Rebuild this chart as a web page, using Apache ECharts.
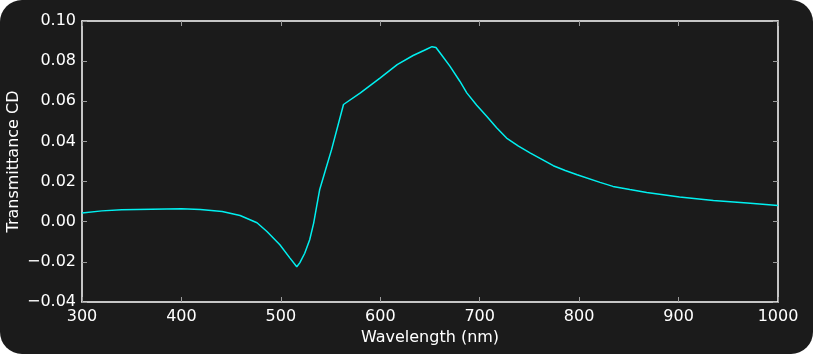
<!DOCTYPE html>
<html>
<head>
<meta charset="utf-8">
<script src="https://cdn.jsdelivr.net/npm/echarts@6/dist/echarts.min.js"></script>
<style>
  html, body { margin: 0; padding: 0; background: #ffffff; }
  #frame {
    width: 813px; height: 354px;
    background: #1b1b1b;
    border-radius: 22px;
  }
  #chart { width: 813px; height: 354px; }
</style>
</head>
<body>
<div id="frame"><div id="chart"></div></div>
<script>
// wavelength (nm) and transmittance CD
var wavelengths = [300, 320, 340, 370, 400, 419, 441, 459, 476, 486, 499, 509, 516, 519, 524, 529, 533, 536,
                   539, 544, 551, 563, 580, 600, 617, 633, 646, 652, 656, 660, 670, 680, 687, 697,
                   707, 717, 727, 739, 751, 763, 774, 786, 798, 821, 834, 851, 868, 901, 935, 969, 1000];
var cdValues = [0.0044, 0.0054, 0.0060, 0.0062, 0.0064, 0.0061, 0.0051, 0.0031, -0.0005, -0.0049, -0.0115,
                -0.0180, -0.0224, -0.0205, -0.0157, -0.0090, -0.0007, 0.0076,
                0.0159, 0.0243, 0.0359, 0.0584, 0.0642, 0.0717, 0.0783, 0.0828, 0.0858, 0.0872, 0.0868, 0.0842,
                0.0775, 0.0700, 0.0642, 0.0580, 0.0525, 0.0468, 0.0417, 0.0377, 0.0342, 0.0309,
                0.0279, 0.0255, 0.0234, 0.0196, 0.0176, 0.0160, 0.0146, 0.0123, 0.0106, 0.0093, 0.0081];
var xTicks = [300, 400, 500, 600, 700, 800, 900, 1000];
var yTicks = [-0.04, -0.02, 0.00, 0.02, 0.04, 0.06, 0.08, 0.10];

var points = wavelengths.map(function (w, i) { return [w, cdValues[i]]; });

var chart = echarts.init(document.getElementById('chart'));
var labelFont = { color: '#ffffff', fontSize: 16, fontFamily: 'DejaVu Sans' };
var tickStyle = { show: true, inside: true, length: 5, lineStyle: { color: '#9a9a9a', width: 1 } };
var lineStyle = { onZero: false, lineStyle: { color: '#ffffff', width: 1.5 } };

chart.setOption({
  backgroundColor: 'transparent',
  animation: false,
  grid: { left: 82, right: 35, top: 21, bottom: 52, containLabel: false, outerBoundsMode: 'none' },
  xAxis: [{
    type: 'value', min: xTicks[0], max: xTicks[xTicks.length - 1], interval: 100,
    name: 'Wavelength (nm)', nameLocation: 'middle', nameGap: 28, nameMoveOverlap: false,
    nameTextStyle: labelFont,
    axisLine: lineStyle, axisTick: tickStyle, splitLine: { show: false },
    axisLabel: Object.assign({
      margin: 7, showMinLabel: true, showMaxLabel: true,
      formatter: function (v) { return String(v); }
    }, labelFont)
  }, {
    type: 'value', min: xTicks[0], max: xTicks[xTicks.length - 1], interval: 100, position: 'top',
    axisLine: lineStyle, axisTick: tickStyle, splitLine: { show: false },
    axisLabel: { show: false }
  }],
  yAxis: [{
    type: 'value', min: yTicks[0], max: yTicks[yTicks.length - 1], interval: 0.02,
    name: 'Transmittance CD', nameLocation: 'middle', nameGap: 60, nameMoveOverlap: false,
    nameTextStyle: labelFont,
    axisLine: lineStyle, axisTick: tickStyle, splitLine: { show: false },
    axisLabel: Object.assign({
      margin: 6,
      formatter: function (v) { return v.toFixed(2).replace('-', '\u2212'); }
    }, labelFont)
  }, {
    type: 'value', min: yTicks[0], max: yTicks[yTicks.length - 1], interval: 0.02, position: 'right',
    axisLine: lineStyle, axisTick: tickStyle, splitLine: { show: false },
    axisLabel: { show: false }
  }],
  series: [{
    type: 'line',
    data: points,
    showSymbol: false,
    smooth: false,
    lineStyle: { color: '#00f0f0', width: 1.5 }
  }]
});
</script>
</body>
</html>
